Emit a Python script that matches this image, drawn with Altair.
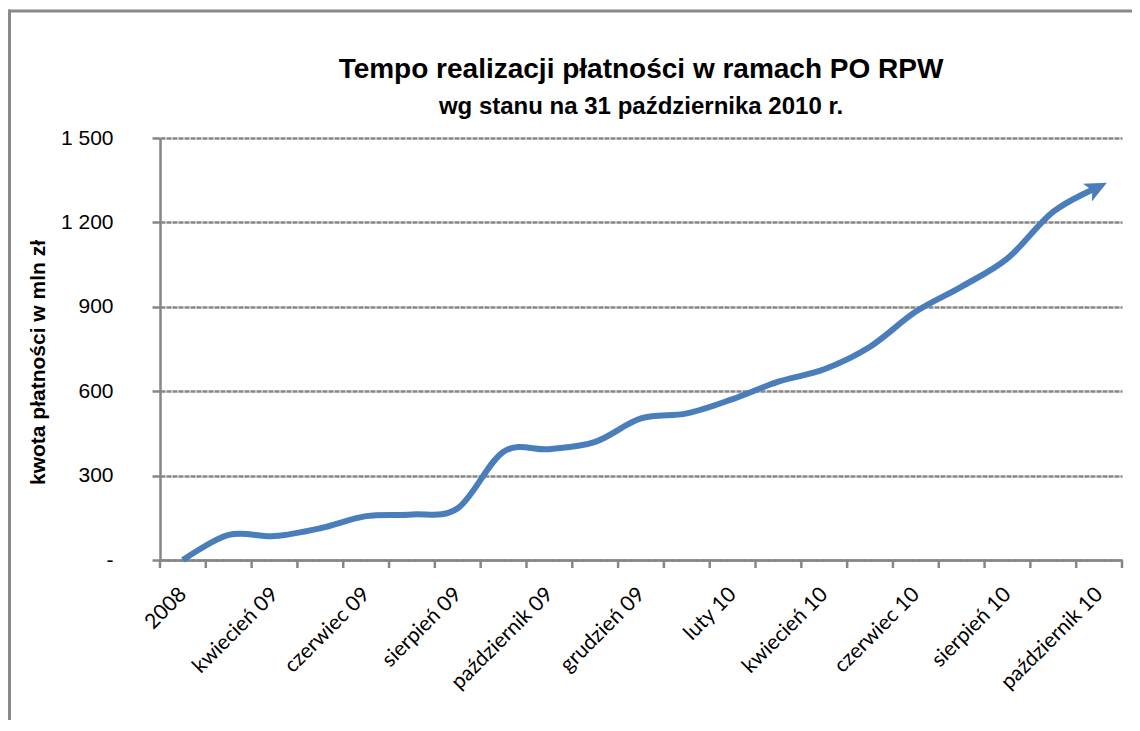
import json
import altair as alt
import pandas as pd

categories = ["2008", "marzec 09", "kwiecień 09", "maj 09", "czerwiec 09", "lipiec 09",
              "sierpień 09", "wrzesień 09", "październik 09", "listopad 09", "grudzień 09",
              "styczeń 10", "luty 10", "marzec 10", "kwiecień 10", "maj 10", "czerwiec 10",
              "lipiec 10", "sierpień 10", "wrzesień 10", "październik 10"]
values = [0, 89, 85, 113, 156, 162, 184, 385, 394, 420, 503, 521, 572, 634, 678,
          758, 883, 972, 1072, 1238, 1327]
y_ticks = [0, 300, 600, 900, 1200, 1500]

title_text = "Tempo realizacji płatności w ramach PO RPW"
subtitle_text = "wg stanu na 31 października 2010 r."
y_title = "kwota płatności w mln zł"

GRAY = "#868686"
BLUE = "#4a7ebb"
W, H = 962, 422

df = pd.DataFrame({"cat": categories, "val": values,
                   "pos": [i + 0.5 for i in range(len(categories))]})
ticks_df = pd.DataFrame({"pos": [float(b) for b in range(len(categories) + 1)]})
last_df = df.tail(1)
label_values = [i + 0.5 for i in range(0, len(categories), 2)]

label_expr = json.dumps(categories, ensure_ascii=False) + "[floor(datum.value)]"

xscale = alt.Scale(domain=[0, len(categories)], nice=False, zero=False)
yscale = alt.Scale(domain=[0, 1500], nice=False)

x_axis = alt.Axis(values=label_values, labelExpr=label_expr, title=None)
y_axis = alt.Axis(values=y_ticks,
                  labelExpr="datum.value == 0 ? '-' : replace(datum.label, ',', ' ')",
                  title=y_title)

base = alt.Chart(df).encode(
    x=alt.X("pos:Q", scale=xscale, axis=x_axis),
    y=alt.Y("val:Q", scale=yscale, axis=y_axis),
)

line = base.mark_line(color=BLUE, strokeWidth=6, interpolate="cardinal")

arrow = base.transform_filter(alt.datum.pos == last_df["pos"].iloc[0]).mark_point(
    shape="M-1.2,-0.9 L0.8,0 L-1.2,0.9 L-0.7,0 Z", filled=True, opacity=1,
    color=BLUE, size=480, angle=333
)

xticks = alt.Chart(ticks_df).mark_rule(color=GRAY, strokeWidth=2.5).encode(
    x=alt.X("pos:Q", scale=xscale, axis=x_axis),
    y=alt.value(H), y2=alt.value(H + 8),
)

one = pd.DataFrame({"a": [0]})
title_mark = alt.Chart(one).mark_text(
    text=title_text, font="Liberation Sans", fontSize=28, fontWeight="bold",
    color="black", align="center", baseline="alphabetic"
).encode(x=alt.value(W / 2), y=alt.value(-60))
subtitle_mark = alt.Chart(one).mark_text(
    text=subtitle_text, font="Liberation Sans", fontSize=24, fontWeight="bold",
    color="black", align="center", baseline="alphabetic"
).encode(x=alt.value(W / 2), y=alt.value(-24))

border_left = alt.Chart(one).mark_rule(color="#898989", strokeWidth=3).encode(
    x=alt.value(-150.5), y=alt.value(-128.5), y2=alt.value(700))
border_top = alt.Chart(one).mark_rule(color="#898989", strokeWidth=3).encode(
    x=alt.value(-152), x2=alt.value(1100), y=alt.value(-127))

chart = alt.layer(line, xticks, arrow, title_mark, subtitle_mark,
                  border_left, border_top).properties(
    width=W, height=H,
    padding={"left": 152, "top": 130, "right": 10, "bottom": 160},
    autosize=alt.AutoSizeParams(type="none"),
).configure_view(stroke=None).configure_axisX(
    labelAngle=-45, labelAlign="right", labelBaseline="middle",
    labelOverlap=False, labelFlush=False, ticks=False, grid=False,
    domainColor=GRAY, domainWidth=2.5, labelFont="Lato", labelFontSize=21,
    labelColor="black", labelPadding=31, labelOffset=0,
).configure_axisY(
    grid=True, gridColor=GRAY, gridWidth=2.5, gridDash=[5, 1],
    domainColor=GRAY, domainWidth=2.5, tickColor=GRAY, tickWidth=2.5, tickSize=8,
    labelFont="Liberation Sans", labelFontSize=21, labelColor="black",
    labelPadding=39, titleFont="Liberation Sans", titleFontSize=21,
    titleFontWeight="bold", titleColor="black", titleAngle=270,
    titleX=-122, titleY=224, titleAlign="center", titleBaseline="middle",
)

chart.save("out.html", embed_options={"renderer": "svg", "actions": False})
